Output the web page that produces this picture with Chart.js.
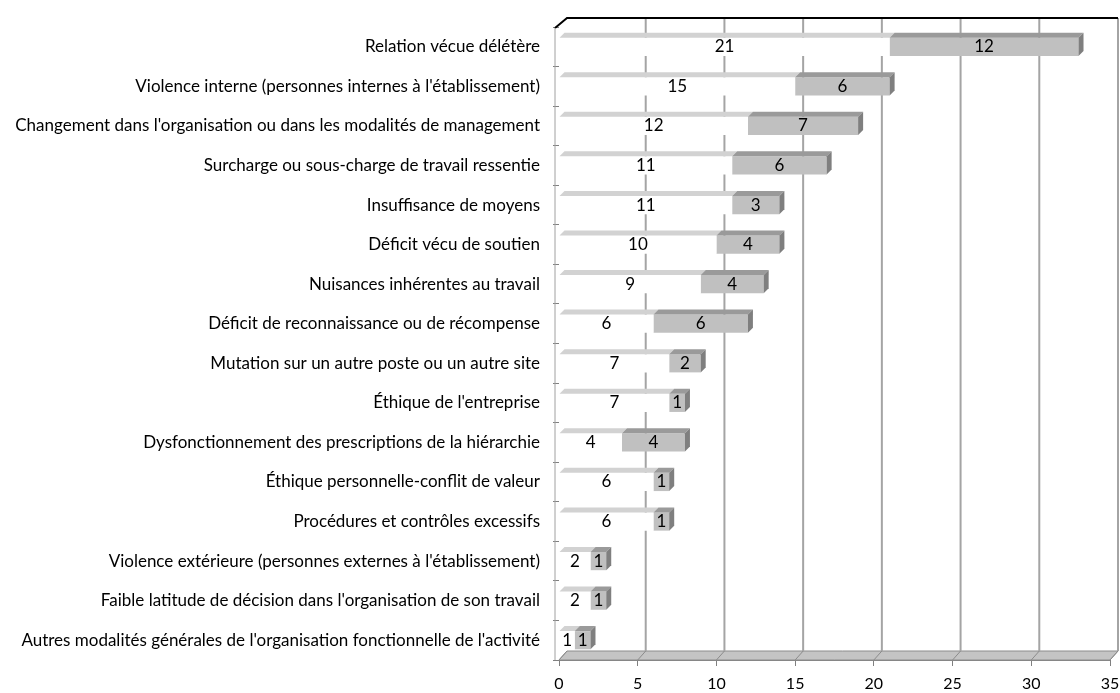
<!DOCTYPE html>
<html>
<head>
<meta charset="utf-8">
<script src="https://cdn.jsdelivr.net/npm/chart.js@4"></script>
<style>
  html, body { margin: 0; padding: 0; background: #fff; }
  canvas { display: block; }
</style>
</head>
<body>
<canvas id="c" width="1120" height="693"></canvas>
<script>
const categories = [
  "Relation vécue délétère",
  "Violence interne (personnes internes à l'établissement)",
  "Changement dans l'organisation ou dans les modalités de management",
  "Surcharge ou sous-charge de travail ressentie",
  "Insuffisance de moyens",
  "Déficit vécu de soutien",
  "Nuisances inhérentes au travail",
  "Déficit de reconnaissance ou de récompense",
  "Mutation sur un autre poste ou un autre site",
  "Éthique de l'entreprise",
  "Dysfonctionnement des prescriptions de la hiérarchie",
  "Éthique personnelle-conflit de valeur",
  "Procédures et contrôles excessifs",
  "Violence extérieure (personnes externes à l'établissement)",
  "Faible latitude de décision dans l'organisation de son travail",
  "Autres modalités générales de l'organisation fonctionnelle de l'activité"
];
const seriesWhite = [21, 15, 12, 11, 11, 10, 9, 6, 7, 7, 4, 6, 6, 2, 2, 1];
const seriesGray  = [12, 6, 7, 6, 3, 4, 4, 6, 2, 1, 4, 1, 1, 1, 1, 1];
const axisMin = 0, axisMax = 35, axisStep = 5;

const FONT = "Lato, 'Open Sans', sans-serif";
const FONT_SIZE = 17;
const DEPTH = 5;   // 3D offset of bars
const WALL = 8;    // 3D offset of back wall

const wallPlugin = {
  id: 'wall',
  beforeDatasetsDraw(chart) {
    const {ctx, chartArea: a, scales: {x}} = chart;
    ctx.save();
    // floor
    const x0 = x.getPixelForValue(axisMin), x1 = x.getPixelForValue(axisMax);
    ctx.beginPath();
    ctx.moveTo(x0, a.bottom);
    ctx.lineTo(x1, a.bottom);
    ctx.lineTo(x1 + WALL, a.bottom - WALL - 1);
    ctx.lineTo(x0 + WALL, a.bottom - WALL - 1);
    ctx.closePath();
    ctx.fillStyle = '#c4c4c4';
    ctx.fill();
    ctx.strokeStyle = '#8c8c8c';
    ctx.lineWidth = 1;
    ctx.stroke();
    // grid lines on back wall
    ctx.strokeStyle = '#a4a4a4';
    ctx.lineWidth = 2;
    for (let v = axisMin + axisStep; v <= axisMax; v += axisStep) {
      const px = x.getPixelForValue(v);
      ctx.beginPath();
      ctx.moveTo(px + WALL, a.top - WALL - 1);
      ctx.lineTo(px + WALL, a.bottom - WALL - 1);
      ctx.stroke();
    }
    // floor diagonals
    ctx.lineWidth = 1;
    ctx.strokeStyle = '#8c8c8c';
    for (let v = axisMin; v <= axisMax; v += axisStep) {
      const px = x.getPixelForValue(v);
      ctx.beginPath();
      ctx.moveTo(px, a.bottom);
      ctx.lineTo(px + WALL, a.bottom - WALL - 1);
      ctx.stroke();
    }
    // top edge of the wall
    ctx.strokeStyle = '#000';
    ctx.lineWidth = 2;
    ctx.beginPath();
    ctx.moveTo(x0 - 4, a.top + 1);
    ctx.lineTo(x0 + WALL, a.top - WALL - 1);
    ctx.lineTo(x1 + WALL, a.top - WALL - 1);
    ctx.stroke();
    ctx.strokeStyle = '#a0a0a0';
    ctx.lineWidth = 1;
    ctx.beginPath();
    ctx.moveTo(x0 - 4, a.top + 1);
    ctx.lineTo(x0 - 4, a.bottom);
    ctx.stroke();
    ctx.restore();
  },
  afterDatasetsDraw(chart) {
    const {ctx} = chart;
    ctx.save();
    const faces = [
      {top: '#d2d2d2', side: '#bdbdbd'},
      {top: '#9a9a9a', side: '#7f7f7f'}
    ];
    chart.data.datasets.forEach((ds, di) => {
      const meta = chart.getDatasetMeta(di);
      meta.data.forEach((el) => {
        const p = el.getProps(['x', 'y', 'base', 'height'], true);
        const top = p.y - p.height / 2, bot = p.y + p.height / 2;
        const l = Math.min(p.base, p.x), r = Math.max(p.base, p.x);
        ctx.fillStyle = faces[di].top;
        ctx.beginPath();
        ctx.moveTo(l, top);
        ctx.lineTo(l + DEPTH, top - DEPTH);
        ctx.lineTo(r + DEPTH, top - DEPTH);
        ctx.lineTo(r, top);
        ctx.closePath();
        ctx.fill();
        if (di === 1) {
          ctx.fillStyle = faces[di].side;
          ctx.beginPath();
          ctx.moveTo(r, top);
          ctx.lineTo(r + DEPTH, top - DEPTH);
          ctx.lineTo(r + DEPTH, bot - DEPTH);
          ctx.lineTo(r, bot);
          ctx.closePath();
          ctx.fill();
        }
      });
    });
    // value labels
    ctx.fillStyle = '#000';
    ctx.font = FONT_SIZE + 'px ' + FONT;
    ctx.textAlign = 'center';
    ctx.textBaseline = 'middle';
    chart.data.datasets.forEach((ds, di) => {
      const meta = chart.getDatasetMeta(di);
      meta.data.forEach((el, i) => {
        const p = el.getProps(['x', 'y', 'base'], true);
        ctx.fillText(String(ds.data[i]), (p.x + p.base) / 2, p.y);
      });
    });
    ctx.restore();
  }
};

new Chart(document.getElementById('c'), {
  type: 'bar',
  data: {
    labels: categories,
    datasets: [
      { label: 'A', data: seriesWhite, backgroundColor: '#ffffff', borderWidth: 0,
        categoryPercentage: 1, barPercentage: 0.46 },
      { label: 'B', data: seriesGray, backgroundColor: '#c0c0c0', borderWidth: 0,
        categoryPercentage: 1, barPercentage: 0.46 }
    ]
  },
  options: {
    indexAxis: 'y',
    responsive: false,
    animation: false,
    devicePixelRatio: 1,
    layout: { padding: { top: 27, right: 10, bottom: 0, left: 0 } },
    plugins: { legend: { display: false }, tooltip: { enabled: false } },
    scales: {
      x: {
        stacked: true,
        min: axisMin, max: axisMax,
        ticks: { stepSize: axisStep, color: '#000', font: { family: FONT, size: 16 }, padding: 8 },
        grid: { drawOnChartArea: false, drawTicks: true, tickLength: 6, color: '#808080' },
        border: { color: '#808080', width: 1 },
        afterFit(s) { s.height = 33; s.paddingRight = 0; s.paddingLeft = 0; }
      },
      y: {
        stacked: true,
        ticks: { color: '#000', font: { family: FONT, size: FONT_SIZE }, padding: 13, autoSkip: false },
        grid: { offset: true, drawOnChartArea: false, drawTicks: true, tickLength: 6, color: '#808080' },
        border: { display: false },
        afterFit(s) { s.width = 559; }
      }
    }
  },
  plugins: [wallPlugin]
});
</script>
</body>
</html>
